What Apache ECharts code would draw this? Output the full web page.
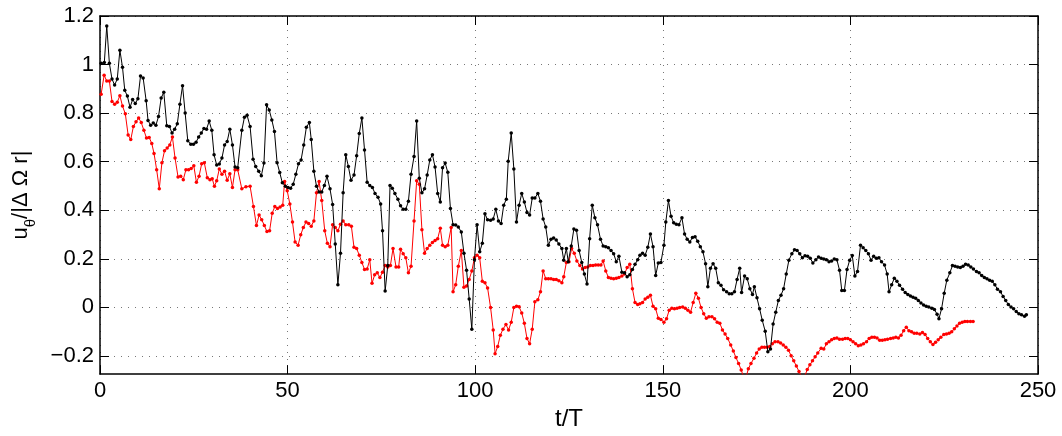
<!DOCTYPE html>
<html>
<head>
<meta charset="utf-8">
<script src="https://cdn.jsdelivr.net/npm/echarts@6/dist/echarts.min.js"></script>
<style>
html,body{margin:0;padding:0;background:#fff;overflow:hidden;}
#c{width:1062px;height:436px;}
</style>
</head>
<body>
<div id="c"></div>
<script>
// x-axis ticks (t/T)
const xTicks = [0, 50, 100, 150, 200, 250];
// y-axis ticks
const yTicks = [-0.2, 0, 0.2, 0.4, 0.6, 0.8, 1, 1.2];
const yTickLabels = ['\u22120.2', '0', '0.2', '0.4', '0.6', '0.8', '1', '1.2'];

// black series [t/T, value]
const blackSeries = [
[0.3,1.005],[1.15,1.008],[1.8,1.159],[2.5,1.005],[3.2,0.94],[3.9,0.916],[4.6,0.94],[5.3,1.059],[6.0,0.989],[6.6,0.894],[7.3,0.87],[8.0,0.824],[8.7,0.856],[9.4,0.84],[10.1,0.859],[10.8,0.953],[11.5,0.945],[12.3,0.851],[12.8,0.77],[13.5,0.75],[14.2,0.759],[14.9,0.75],[15.6,0.786],[16.3,0.862],[17.0,0.886],[17.8,0.748],[18.5,0.745],[19.2,0.718],[19.9,0.734],[20.6,0.756],[21.3,0.837],[22.0,0.913],[22.7,0.8],[23.4,0.686],[24.2,0.672],[24.9,0.672],[25.6,0.68],[26.3,0.702],[27.0,0.718],[27.7,0.737],[28.4,0.734],[29.1,0.767],[29.8,0.729],[30.4,0.629],[31.1,0.586],[31.8,0.59],[32.5,0.615],[33.2,0.669],[33.9,0.683],[34.6,0.734],[35.3,0.669],[36.0,0.578],[36.7,0.575],[37.8,0.729],[38.5,0.783],[39.2,0.791],[40.0,0.745],[40.8,0.61],[41.5,0.58],[42.3,0.561],[43.0,0.542],[43.7,0.594],[44.4,0.834],[45.1,0.813],[45.8,0.772],[46.5,0.724],[47.2,0.596],[47.9,0.555],
[48.6,0.513],[49.4,0.499],[50.1,0.494],[50.8,0.491],[51.5,0.507],[52.2,0.548],[52.9,0.591],[53.6,0.607],[54.3,0.669],[55.0,0.742],[55.8,0.761],[56.3,0.691],[57.0,0.561],[57.7,0.499],[58.4,0.475],[59.1,0.475],[59.8,0.502],[60.5,0.54],[61.3,0.488],[62.0,0.424],[62.7,0.261],[63.4,0.093],[64.1,0.223],[64.8,0.472],[65.5,0.629],[66.2,0.58],[66.9,0.523],[67.7,0.545],[68.4,0.624],[69.1,0.716],[69.8,0.78],[70.5,0.648],[71.2,0.515],[71.9,0.502],[72.6,0.494],[73.3,0.469],[74.1,0.453],[74.8,0.426],[75.3,0.315],[76.0,0.067],[76.7,0.172],[77.3,0.502],[77.9,0.491],[78.6,0.469],[79.4,0.445],[80.1,0.418],[80.8,0.404],[81.5,0.404],[82.2,0.437],[82.9,0.548],[83.7,0.621],[84.4,0.767],[85.1,0.532],[85.8,0.472],[86.5,0.488],[87.2,0.545],[87.9,0.607],[88.6,0.629],[89.3,0.578],[90.0,0.469],[90.7,0.434],
[91.3,0.575],[92.0,0.594],[92.7,0.556],[93.4,0.407],[94.1,0.34],[94.8,0.339],[95.5,0.331],[96.3,0.31],[97.0,0.223],[97.7,0.153],[98.4,0.034],[99.1,-0.09],[99.8,0.196],[100.5,0.34],[101.2,0.229],[101.9,0.264],[102.6,0.385],[103.3,0.361],[104.1,0.359],[104.8,0.364],[105.5,0.404],[106.2,0.356],[106.9,0.345],[107.6,0.421],[108.3,0.445],[108.8,0.602],[109.6,0.718],[110.3,0.57],[111.0,0.351],[111.7,0.421],[112.4,0.469],[113.1,0.434],[113.8,0.391],[114.5,0.38],[115.2,0.45],[115.9,0.45],[116.7,0.469],[117.4,0.437],[118.1,0.364],[118.8,0.331],[119.5,0.256],[120.2,0.28],[120.9,0.286],[121.6,0.277],[122.3,0.261],[123.1,0.242],[123.6,0.194],[124.3,0.242],[124.8,0.188],[125.6,0.253],[126.3,0.323],[127.0,0.318],[127.7,0.234],[128.4,0.185],[129.1,0.137],[129.8,0.096],[130.5,0.283],[131.2,0.421],[131.9,0.369],[132.6,0.34],[133.4,0.28],[134.1,0.253],[134.8,0.25],[135.5,0.245],[136.2,0.234],[136.9,0.221],[137.6,0.188],[138.3,0.21],[139.1,0.145],[139.8,0.142],[140.5,0.126],[141.2,0.134],[141.9,0.156],[142.6,0.177],[143.3,0.196],
[143.9,0.215],[144.6,0.223],[145.3,0.215],[146.0,0.247],[146.7,0.302],[147.4,0.25],[148.1,0.131],[148.8,0.183],[149.5,0.185],[150.3,0.256],[150.8,0.351],[151.5,0.44],[152.2,0.375],[152.9,0.348],[153.6,0.342],[154.3,0.34],[155.1,0.369],[155.8,0.302],[156.5,0.28],[157.2,0.269],[157.9,0.288],[158.6,0.291],[159.3,0.272],[160.0,0.25],[160.7,0.229],[161.4,0.18],[162.0,0.085],[162.7,0.161],[163.4,0.18],[164.1,0.161],[164.8,0.101],[165.5,0.091],[166.2,0.072],[167.0,0.064],[167.7,0.056],[168.4,0.056],[169.1,0.064],[169.8,0.115],[170.5,0.161],[171.0,0.061],[171.8,0.129],[172.5,0.118],[173.2,0.077],[173.9,0.053],[174.4,0.085],[175.1,0.039],[175.8,-0.006],[176.5,-0.053],[177.3,-0.099],[178.0,-0.183],[178.7,-0.172],[179.4,-0.069],[180.1,-0.02],[180.8,0.028],[181.5,0.05],[182.2,0.077],[182.9,0.137],[183.6,0.194],[184.4,0.221],[185.1,0.237],[185.8,0.234],[186.5,0.221],[187.2,0.204],[187.9,0.212],[188.6,0.21],[189.3,0.202],[190.0,0.183],[190.8,0.196],
[191.5,0.207],[192.2,0.202],[192.9,0.199],[193.6,0.196],[194.3,0.188],[195.0,0.191],[195.7,0.199],[196.4,0.196],[197.1,0.153],[197.7,0.069],[198.4,0.069],[199.1,0.156],[199.8,0.194],[200.5,0.213],[201.2,0.129],[201.9,0.148],[202.7,0.256],[203.4,0.245],[204.1,0.234],[204.8,0.221],[205.5,0.194],[206.2,0.21],[206.9,0.202],[207.6,0.204],[208.3,0.188],[209.1,0.174],[209.8,0.137],[210.3,0.064],[211.0,0.093],[211.7,0.12],[212.4,0.107],[213.1,0.091],[213.9,0.075],[214.6,0.061],[215.3,0.053],[216.0,0.047],[216.7,0.042],[217.4,0.037],[218.1,0.028],[218.8,0.018],[219.5,0.01],[220.2,0.004],[220.9,0.001],[221.7,-0.004],[222.4,-0.009],[223.1,-0.028],[223.6,-0.047],[224.3,-0.006],[225.0,0.058],[225.7,0.112],[226.5,0.142],[227.2,0.172],[227.9,0.169],[228.6,0.166],[229.3,0.164],[230.0,0.169],[230.7,0.177],[231.4,0.174],[232.1,0.166],[232.8,0.158],[233.6,0.148],[234.3,0.142],[235.0,0.131],[235.7,0.123],[236.4,0.118],[237.1,0.112],[237.8,0.107],[238.5,0.093],[239.2,0.075],[240.0,0.064],[240.7,0.045],[241.4,0.028],[242.1,0.012],[242.8,0.001],[243.5,-0.006],[244.2,-0.017],[244.9,-0.026],[245.6,-0.031],[246.4,-0.037],[246.9,-0.031]
];

// red series [t/T, value]
const redSeries = [
[0.3,0.878],[1.1,0.956],[1.8,0.932],[2.5,0.932],[3.2,0.848],[3.9,0.837],[4.6,0.845],[5.3,0.872],[6.0,0.829],[6.75,0.797],[7.5,0.71],[8.2,0.691],[8.9,0.745],[9.6,0.764],[10.3,0.78],[11.0,0.761],[11.7,0.729],[12.4,0.697],[13.1,0.7],[13.8,0.675],[14.4,0.634],[15.1,0.567],[15.8,0.488],[16.5,0.596],[17.2,0.645],[17.9,0.656],[18.6,0.669],[19.3,0.702],[20.0,0.615],[20.8,0.537],[21.5,0.54],[22.2,0.526],[22.9,0.567],[23.6,0.567],[24.3,0.572],[25.0,0.583],[25.7,0.515],[26.4,0.54],[27.1,0.591],[27.8,0.596],[28.6,0.534],[29.3,0.526],[29.9,0.53],[30.5,0.499],[31.1,0.521],[31.8,0.57],[32.5,0.548],[33.2,0.561],[33.9,0.523],[34.6,0.55],[35.3,0.494],[36.0,0.567],[36.7,0.567],[37.8,0.488],[38.9,0.497],[40.0,0.499],
[40.9,0.415],[41.7,0.337],[42.4,0.38],[43.1,0.361],[43.8,0.337],[44.5,0.312],[45.2,0.315],[45.9,0.388],[46.6,0.415],[47.3,0.407],[48.0,0.413],[48.7,0.421],[49.2,0.518],[49.9,0.48],
[50.6,0.426],[51.3,0.351],[52.0,0.269],[52.8,0.256],[53.5,0.299],[54.2,0.329],[54.9,0.351],[55.6,0.345],[56.3,0.334],[57.0,0.356],[57.7,0.472],[58.4,0.518],[59.1,0.44],[59.9,0.315],[60.6,0.264],[61.3,0.25],[62.0,0.34],[62.7,0.329],[63.4,0.315],[64.1,0.342],[64.8,0.356],[65.5,0.34],[66.3,0.34],[67.0,0.334],[67.7,0.247],[68.4,0.242],[69.1,0.215],[69.8,0.185],[70.5,0.156],[71.2,0.158],[71.9,0.196],[72.5,0.099],[73.2,0.134],[73.9,0.142],[74.6,0.123],[75.3,0.145],[76.0,0.172],[76.7,0.166],[77.4,0.172],[78.1,0.242],[78.9,0.166],[79.6,0.166],[80.1,0.239],[80.8,0.221],[81.5,0.204],[82.2,0.142],[82.9,0.169],[83.7,0.356],[84.4,0.521],[85.1,0.507],[85.8,0.32],[86.5,0.223],[87.2,0.242],[87.9,0.256],[88.6,0.267],[89.3,0.275],[90.0,0.283],[90.7,0.326],
[91.3,0.256],[92.0,0.25],[92.7,0.256],[93.6,0.329],[94.1,0.064],[94.8,0.093],[95.5,0.169],[96.3,0.234],[97.0,0.083],[97.7,0.088],[98.4,0.115],[99.1,0.15],[99.8,0.204],[100.5,0.215],[101.2,0.204],[101.9,0.107],[102.6,0.101],[103.3,0.08],[104.1,-0.001],[104.8,-0.093],[105.3,-0.191],[106.0,-0.161],[106.7,-0.115],[107.4,-0.09],[108.2,-0.071],[108.9,-0.093],[109.6,-0.061],[110.3,-0.001],[111.0,0.004],[111.7,0.002],[112.4,-0.023],[113.1,-0.066],[113.8,-0.128],[114.5,-0.15],[115.2,-0.09],[115.9,0.023],[116.7,0.031],[117.4,0.064],[118.1,0.15],[118.8,0.118],[119.5,0.118],[120.2,0.118],[120.9,0.115],[121.6,0.115],[122.3,0.11],[123.1,0.101],[123.6,0.126],[124.3,0.185],[125.0,0.188],[125.7,0.242],[126.4,0.223],[127.1,0.191],[127.9,0.172],[128.6,0.158],[129.3,0.164],[130.0,0.166],[130.7,0.172],[131.4,0.172],[132.1,0.174],[132.8,0.174],[133.5,0.174],[134.1,0.191],[134.8,0.15],[135.5,0.123],[136.2,0.12],[136.9,0.118],[137.6,0.12],[138.3,0.123],[139.1,0.129],[139.8,0.137],[140.5,0.164],[141.2,0.177],[141.9,0.077],[142.6,0.02],[143.3,0.012],
[143.9,0.015],[144.6,0.02],[145.3,0.034],[146.0,0.042],[146.7,0.05],[147.4,0.004],[148.1,-0.006],[148.8,-0.045],[149.5,-0.05],[150.3,-0.061],[151.0,-0.047],[151.7,-0.012],[152.4,-0.004],[153.1,-0.006],[153.8,-0.004],[154.5,-0.001],[155.3,0.001],[156.0,-0.004],[156.7,-0.012],[157.4,-0.02],[158.1,0.02],[158.8,0.058],[159.5,0.037],[160.2,-0.001],[160.9,-0.026],[161.6,-0.045],[162.3,-0.039],[163.1,-0.039],[163.8,-0.047],[164.5,-0.061],[165.2,-0.066],[165.9,-0.093],[166.6,-0.11],[167.3,-0.128],[168.1,-0.155],[168.8,-0.18],[169.5,-0.207],[170.2,-0.231],[170.9,-0.258],[171.6,-0.29],[172.3,-0.282],[172.8,-0.253],[173.5,-0.231],[174.3,-0.21],[175.0,-0.188],[175.7,-0.172],[176.4,-0.164],[177.1,-0.164],[177.8,-0.164],[178.5,-0.161],[179.2,-0.15],[179.9,-0.142],[180.7,-0.142],[181.4,-0.147],[182.1,-0.155],[182.8,-0.164],[183.5,-0.177],[184.2,-0.199],[184.9,-0.22],[185.6,-0.242],[186.3,-0.264],[187.1,-0.29],[187.8,-0.285],[188.5,-0.256],[189.2,-0.237],[189.9,-0.22],[190.6,-0.204],[191.3,-0.188],
[192.2,-0.169],[192.9,-0.172],[193.6,-0.15],[194.3,-0.142],[195.0,-0.134],[195.7,-0.128],[196.4,-0.126],[197.1,-0.131],[197.9,-0.131],[198.6,-0.128],[199.3,-0.128],[200.0,-0.134],[200.7,-0.142],[201.4,-0.15],[202.1,-0.158],[202.8,-0.155],[203.5,-0.15],[204.3,-0.142],[205.0,-0.128],[205.7,-0.123],[206.4,-0.123],[207.1,-0.126],[207.8,-0.136],[208.5,-0.136],[209.2,-0.134],[209.9,-0.131],[210.7,-0.128],[211.4,-0.126],[212.1,-0.123],[212.8,-0.126],[213.5,-0.115],[214.2,-0.096],[214.9,-0.082],[215.6,-0.096],[216.3,-0.101],[217.0,-0.107],[217.7,-0.107],[218.5,-0.11],[219.2,-0.104],[219.9,-0.112],[220.6,-0.128],[221.3,-0.142],[222.0,-0.153],[222.7,-0.144],[223.4,-0.134],[224.1,-0.123],[224.9,-0.112],[225.6,-0.11],[226.3,-0.107],[227.0,-0.101],[227.7,-0.088],[228.4,-0.077],[229.1,-0.066],[229.8,-0.061],[230.5,-0.058],[231.2,-0.058],[232.0,-0.058],[232.7,-0.058]
];

const FONT = 'Liberation Sans';
const chart = echarts.init(document.getElementById('c'), null, {renderer: 'canvas', width: 1062, height: 436});

const yLabelFmt = function (v) {
  const i = yTicks.findIndex(t => Math.abs(t - v) < 1e-9);
  return i >= 0 ? yTickLabels[i] : '';
};

const gridLine = {show: true, lineStyle: {color: '#777', width: 1, type: [1, 6]}};
const axisLineStyle = {show: true, onZero: false, lineStyle: {color: '#000', width: 1.5}};

chart.setOption({
  animation: false,
  backgroundColor: '#fff',
  grid: {left: 100, right: 24, top: 16, bottom: 56, containLabel: false},
  xAxis: [{
    type: 'value', min: xTicks[0], max: xTicks[xTicks.length - 1], interval: 50,
    position: 'bottom',
    name: 't/T', nameLocation: 'middle', nameGap: 30,
    nameTextStyle: {fontFamily: FONT, fontSize: 24, color: '#000'},
    axisLine: axisLineStyle,
    axisTick: {show: true, inside: true, length: 9, lineStyle: {color: '#000', width: 1}},
    axisLabel: {show: true, fontFamily: FONT, fontSize: 22, color: '#000', margin: 6},
    splitLine: gridLine
  }, {
    type: 'value', min: xTicks[0], max: xTicks[xTicks.length - 1], interval: 50,
    position: 'top',
    axisLine: axisLineStyle,
    axisTick: {show: true, inside: true, length: 9, lineStyle: {color: '#000', width: 1}},
    axisLabel: {show: false},
    splitLine: {show: false}
  }],
  yAxis: [{
    type: 'value', min: -0.275, max: 1.2,
    position: 'left',
    name: '{a|u}{s|\u03b8}{a|/|\u0394 \u03a9 r|}',
    nameLocation: 'middle', nameRotate: 90, nameGap: 62,
    nameTextStyle: {
      fontFamily: FONT, color: '#000',
      rich: {
        a: {fontFamily: FONT, fontSize: 22, color: '#000', lineHeight: 22, verticalAlign: 'middle'},
        s: {fontFamily: FONT, fontSize: 15, color: '#000', lineHeight: 34, verticalAlign: 'bottom'}
      }
    },
    axisLine: axisLineStyle,
    axisTick: {show: true, inside: true, length: 9, customValues: yTicks, lineStyle: {color: '#000', width: 1}},
    axisLabel: {show: true, customValues: yTicks, formatter: yLabelFmt, fontFamily: FONT, fontSize: 22, color: '#000', margin: 6},
    splitLine: gridLine
  }, {
    type: 'value', min: -0.275, max: 1.2,
    position: 'right',
    axisLine: axisLineStyle,
    axisTick: {show: true, inside: true, length: 9, customValues: yTicks, lineStyle: {color: '#000', width: 1}},
    axisLabel: {show: false, customValues: yTicks},
    splitLine: {show: false}
  }],
  series: [{
    name: 'black', type: 'line', data: blackSeries, xAxisIndex: 0, yAxisIndex: 0,
    clip: true,
    symbol: 'circle', symbolSize: 3.5, showSymbol: true,
    lineStyle: {color: '#000', width: 1},
    itemStyle: {color: '#000'},
    z: 3
  }, {
    name: 'red', type: 'line', data: redSeries, xAxisIndex: 0, yAxisIndex: 0,
    clip: true,
    symbol: 'circle', symbolSize: 3.5, showSymbol: true,
    lineStyle: {color: '#ff0000', width: 1},
    itemStyle: {color: '#ff0000'},
    z: 2
  }]
});
</script>
</body>
</html>
